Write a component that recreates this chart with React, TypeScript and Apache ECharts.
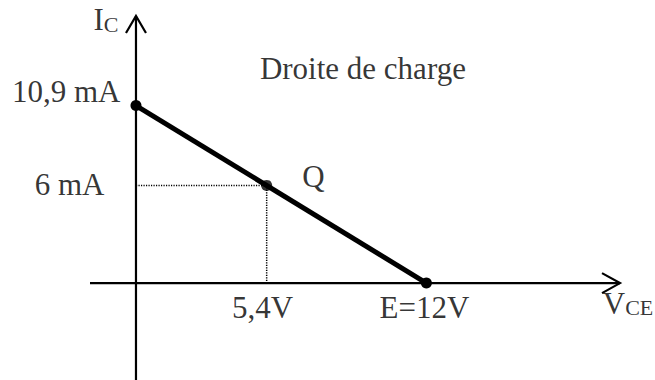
import React, { useEffect, useRef } from 'react';
import * as echarts from 'echarts';

// Axis extents (data units) – the arrows end at the max values
const X_RANGE = [-1.9, 20];
const Y_RANGE = [-5.95, 16.4];

// Load line end points (V_CE, I_C)
const loadLine = [
  [0, 10.9],
  [12, 0],
];
// Operating point Q
const qPoint = [5.4, 6];

// Tick labels
const xTicks = [5.4, 12];
const xTickLabels = ['5,4V', 'E=12V'];
const yTicks = [6, 10.9];
const yTickLabels = ['6 mA', '10,9 mA'];

const titleText = 'Droite de charge';
const qLabel = 'Q';

const FONT = 'Liberation Serif';
const FS = 31;

export default function App() {
  const ref = useRef<HTMLDivElement>(null);

  useEffect(() => {
    document.body.style.margin = '0';
    if (!ref.current) return;
    const chart = echarts.init(ref.current, null, { renderer: 'svg' });

    const guidePath = [
      [0, qPoint[1]],
      [qPoint[0], qPoint[1]],
      [qPoint[0], 0],
    ];

    const txt = { fontFamily: FONT, fontSize: FS, color: '#000' };

    const option: any = {
      animation: false,
      backgroundColor: '#fff',
      grid: { left: 90, right: 35, top: 16, bottom: 0 },
      xAxis: { type: 'value', min: X_RANGE[0], max: X_RANGE[1], show: false },
      yAxis: { type: 'value', min: Y_RANGE[0], max: Y_RANGE[1], show: false },
      series: [
        {
          type: 'custom',
          name: 'axes',
          silent: true,
          clip: false,
          z: 1,
          data: [[0, 0]],
          renderItem: (_params: any, api: any) => {
            const xs = api.coord([X_RANGE[0], 0]);
            const xe = api.coord([X_RANGE[1], 0]);
            const ys = api.coord([0, Y_RANGE[0]]);
            const ye = api.coord([0, Y_RANGE[1]]);
            const st = { stroke: '#000', lineWidth: 2.2, fill: 'none' };
            return {
              type: 'group',
              children: [
                { type: 'line', shape: { x1: xs[0], y1: xs[1], x2: xe[0], y2: xe[1] }, style: st },
                { type: 'line', shape: { x1: ys[0], y1: ys[1], x2: ye[0], y2: ye[1] }, style: st },
                {
                  type: 'polyline',
                  shape: { points: [[xe[0] - 18, xe[1] - 10], [xe[0], xe[1]], [xe[0] - 18, xe[1] + 10]] },
                  style: st,
                },
                {
                  type: 'polyline',
                  shape: { points: [[ye[0] - 10, ye[1] + 17], [ye[0], ye[1]], [ye[0] + 10, ye[1] + 17]] },
                  style: st,
                },
              ],
            };
          },
        },
        {
          type: 'line',
          name: 'guides',
          data: guidePath,
          symbol: 'none',
          silent: true,
          z: 2,
          lineStyle: { color: '#000', width: 1.5, type: [1.2, 1.3] },
        },
        {
          type: 'line',
          name: 'Droite de charge',
          data: loadLine,
          symbol: 'circle',
          symbolSize: 11,
          showAllSymbol: true,
          silent: true,
          z: 3,
          itemStyle: { color: '#000' },
          lineStyle: { color: '#000', width: 5 },
        },
        {
          type: 'scatter',
          name: 'Q',
          data: [qPoint],
          symbolSize: 11,
          silent: true,
          z: 4,
          itemStyle: { color: '#000' },
          label: {
            show: true,
            formatter: qLabel,
            position: 'right',
            distance: 30,
            offset: [0, -9],
            ...txt,
          },
        },
        {
          type: 'scatter',
          name: 'yTicks',
          symbolSize: 1,
          silent: true,
          itemStyle: { color: 'rgba(0,0,0,0)' },
          data: yTicks.map((v, i) => ({
            value: [0, v],
            label: {
              show: true,
              formatter: yTickLabels[i],
              position: 'left',
              distance: i === 0 ? 31 : 15,
              offset: i === 0 ? [0, -1] : [0, -14],
              ...txt,
            },
          })),
        },
        {
          type: 'scatter',
          name: 'xTicks',
          symbolSize: 1,
          silent: true,
          itemStyle: { color: 'rgba(0,0,0,0)' },
          data: xTicks.map((v, i) => ({
            value: [v, 0],
            label: {
              show: true,
              formatter: xTickLabels[i],
              position: 'bottom',
              distance: 8,
              offset: i === 0 ? [-4, 0] : [-2, 0],
              ...txt,
            },
          })),
        },
        {
          type: 'scatter',
          name: 'axisNames',
          symbolSize: 1,
          silent: true,
          itemStyle: { color: 'rgba(0,0,0,0)' },
          data: [
            {
              value: [X_RANGE[1], 0],
              label: {
                show: true,
                formatter: '{m|V}{s|CE}',
                position: 'bottom',
                distance: 5,
                offset: [8, 0],
                rich: {
                  m: { fontFamily: FONT, fontSize: FS, lineHeight: 30, color: '#000', verticalAlign: 'bottom' },
                  s: { fontFamily: FONT, fontSize: 22, lineHeight: 14, color: '#000', verticalAlign: 'bottom' },
                },
              },
            },
            {
              value: [0, Y_RANGE[1]],
              label: {
                show: true,
                formatter: '{m|I}{s|C}',
                position: 'left',
                distance: 17,
                offset: [0, 4],
                rich: {
                  m: { fontFamily: FONT, fontSize: FS, lineHeight: 30, color: '#000', verticalAlign: 'bottom' },
                  s: { fontFamily: FONT, fontSize: 22, lineHeight: 14, color: '#000', verticalAlign: 'bottom' },
                },
              },
            },
            {
              // anchor for the diagram title, placed in the upper free area
              value: [5.1, 13.2],
              label: {
                show: true,
                formatter: titleText,
                position: 'right',
                distance: 0,
                ...txt,
              },
            },
          ],
        },
      ],
    };

    chart.setOption(option);
    return () => chart.dispose();
  }, []);

  return <div ref={ref} style={{ width: 655, height: 380 }} />;
}
